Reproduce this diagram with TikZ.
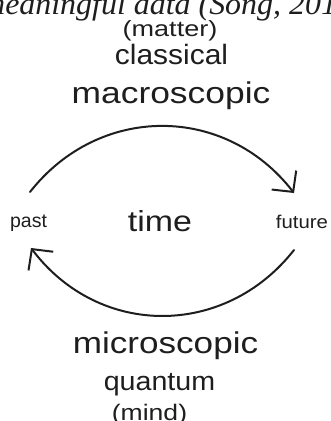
\documentclass[tikz,border=0pt]{standalone}
\usepackage{fontspec}
\setmainfont{Liberation Sans}
\newfontfamily\serifit{Liberation Serif}
\usetikzlibrary{arrows.meta}
\definecolor{ink}{HTML}{1E1E1E}
\tikzset{
  lbl/.style={inner sep=0pt, anchor=base, text=ink},
  arcline/.style={draw=ink, line width=2pt, line cap=round},
  tipped/.style={-{Straight Barb[length=15pt,width=31pt,line width=2pt]}}
}
\newcommand{\wide}[3]{{\fontsize{#1}{#1}\selectfont\scalebox{#2}[1]{#3}}}
\begin{document}
\begin{tikzpicture}[x=1pt,y=1pt]
\useasboundingbox (0,0) rectangle (331,-421);
\clip (0,0) rectangle (331,-421);
\node[lbl, anchor=base west] (cite) at (-18,-14) {\serifit\itshape\wide{31}{1.03}{meaningful data (Song, 2016)}};
\node[lbl] (matter) at (170,-36) {\wide{22}{1.23}{(matter)}};
\node[lbl] (classical) at (171.5,-64) {\wide{28}{1.07}{classical}};
\node[lbl] (macro) at (171,-103) {\wide{30}{1.18}{macroscopic}};
\node[lbl] (past) at (28.5,-227) {\wide{19.5}{1.0}{past}};
\node[lbl] (time) at (160,-231) {\wide{29}{1.17}{time}};
\node[lbl] (future) at (302,-228) {\wide{18.5}{1.1}{future}};
\node[lbl] (micro) at (165.5,-353) {\wide{30}{1.17}{microscopic}};
\node[lbl] (quantum) at (159.5,-390) {\wide{26.5}{1.08}{quantum}};
\node[lbl] (mind) at (149.5,-420) {\wide{22.5}{1.18}{(mind)}};
\coordinate (tl) at (30,-192);
\coordinate (tr) at (294,-193);
\coordinate (br) at (294,-250);
\coordinate (bl) at (31,-248);
\draw[arcline, tipped] (tl) .. controls (99,-104) and (225,-104) .. (tr);
\draw[arcline, tipped] (br) .. controls (225,-338) and (99,-338) .. (bl);
\end{tikzpicture}
\end{document}
